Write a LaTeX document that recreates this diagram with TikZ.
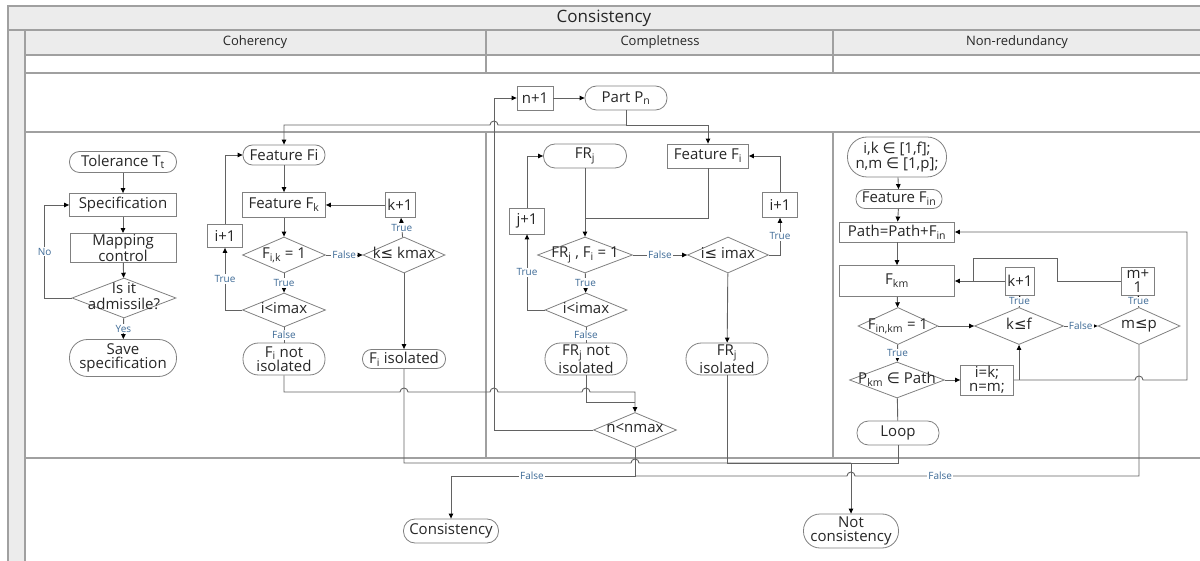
\documentclass[tikz,border=0pt]{standalone}
\usepackage{fontspec}
\setmainfont{Open Sans}
\newfontfamily\symf{DejaVu Sans}
\usepackage{xcolor}
\usepackage{tikz}
\usetikzlibrary{positioning,arrows.meta,shapes.geometric}

\definecolor{lanegray}{HTML}{A0A0A0}
\definecolor{lanefill}{HTML}{ECECEC}
\definecolor{shapegray}{HTML}{808080}
\definecolor{conngray}{HTML}{626262}
\definecolor{lblblue}{HTML}{3D6A96}
\definecolor{txt}{HTML}{262626}

\newcommand{\dtxt}[1]{\makebox[0pt]{\begin{tabular}{@{}c@{}}#1\end{tabular}}}
\newcommand{\lesym}{{\symf ≤}}
\newcommand{\insym}{{\symf ∈}}

\begin{document}
\begin{tikzpicture}[
    x=1pt, y=-1pt,
    nd/.style={draw=shapegray, line width=0.8pt, text=txt, align=center,
               font=\fontsize{15}{14.5}\selectfont, inner sep=1pt},
    sz/.style 2 args={minimum width=#1pt, minimum height=#2pt},
    proc/.style={nd, rectangle},
    term/.style={nd, rectangle, rounded corners=#1},
    dec/.style={nd, diamond, aspect=1, inner sep=0pt},
    conn/.style={draw=conngray, line width=0.9pt},
    arr/.style={conn, -{Triangle[length=5pt,width=4.5pt,color=black]}},
    lbl/.style={font=\fontsize{10}{10}\selectfont, text=lblblue, fill=white, inner sep=1pt},
    lanerule/.style={draw=lanegray, line width=1.2pt},
    head/.style={text=txt, font=\fontsize{13}{13}\selectfont},
  ]
  \useasboundingbox (0,0) rectangle (1200,561);

  % Pool and lanes
  \fill[lanefill] (8,6) rectangle (1200,30);
  \fill[lanefill] (8,30) rectangle (25,561);
  \fill[lanefill] (25,30) rectangle (1200,55);
  \draw[lanerule] (8,561) -- (8,6) -- (1200,6);
  \draw[lanerule] (8,30) -- (1200,30);
  \draw[lanerule] (25,30) -- (25,561);
  \foreach \yy in {55,73,132,458}
    \draw[lanerule] (25,\yy) -- (1200,\yy);
  \foreach \xx in {486,833} {
    \draw[lanerule] (\xx,30) -- (\xx,73);
    \draw[lanerule] (\xx,132) -- (\xx,458);
  }
  \node[head, font=\fontsize{17}{17}\selectfont] (pool) at (604,18) {Consistency};
  \node[head] (lcoh) at (255,42) {Coherency};
  \node[head] (lcom) at (660,42) {Completness};
  \node[head] (lnon) at (1017,42) {Non-redundancy};

  % Coherency: tolerance
  \node[term=10pt, sz={107}{21}] (tol) at (123,162) {Tolerance T\textsubscript{t}};
  \node[proc, sz={107}{23}] (spec) at (123,205) {Specification};
  \node[proc, sz={106}{25}] (map) at (123,248) {Mapping\\control};
  \node[dec, sz={104}{40}] (adm) at (124,298) {\dtxt{Is it\\admissile?}};
  \node[term=18pt, sz={107}{37}] (save) at (123,358) {Save\\specification};

  % Coherency: features
  \node[term=9.5pt, sz={82}{20}] (feat) at (284,155) {Feature Fi};
  \node[proc, sz={83}{25}] (fk) at (284,205) {Feature F\textsubscript{k}};
  \node[proc, sz={30}{25}] (kinc) at (400,205) {k+1};
  \node[proc, sz={35}{23}] (iinc) at (225,236) {i+1};
  \node[dec, sz={83}{36}] (fik) at (284,255) {\dtxt{F\textsubscript{i,k} = 1}};
  \node[dec, sz={82}{36}] (kmax) at (404,255) {\dtxt{k\lesym{} kmax}};
  \node[dec, sz={83}{34}] (imax) at (284,310) {\dtxt{i<imax}};
  \node[term=15.5pt, sz={82}{32}] (fnot) at (284,359) {F\textsubscript{i} not\\isolated};
  \node[term=9pt, sz={83}{19}] (fiso) at (404,359) {F\textsubscript{i} isolated};

  % Completness
  \node[proc, sz={36}{24}] (ninc) at (535,98) {n+1};
  \node[term=11.5pt, sz={82}{24}] (part) at (626,98) {Part P\textsubscript{n}};
  \node[term=11.5pt, sz={83}{24}] (frj) at (585,156) {FR\textsubscript{j}};
  \node[proc, sz={81}{24}] (feat2) at (708,156) {Feature F\textsubscript{i}};
  \node[proc, sz={35}{25}] (iinc2) at (780,205) {i+1};
  \node[proc, sz={35}{26}] (jinc) at (527,221) {j+1};
  \node[dec, sz={95}{36}] (frfi) at (585,255) {\dtxt{FR\textsubscript{j} , F\textsubscript{i} = 1}};
  \node[dec, sz={81}{36}] (ile) at (728,255) {\dtxt{i\lesym{} imax}};
  \node[dec, sz={82}{34}] (imax2) at (586,310) {\dtxt{i<imax}};
  \node[term=15.5pt, sz={82}{32}] (frnot) at (586,359) {FR\textsubscript{j} not\\isolated};
  \node[term=15.5pt, sz={82}{32}] (friso) at (727,359) {FR\textsubscript{j}\\isolated};
  \node[dec, sz={83}{35}] (nmax) at (635,430) {\dtxt{n<nmax}};

  % Non-redundancy
  \node[term=19.5pt, sz={99}{40}] (init) at (897,157) {i,k \insym{} [1,f];\\n,m \insym{} [1,p];};
  \node[term=9pt, sz={86}{19}] (fin) at (899,199) {Feature F\textsubscript{in}};
  \node[proc, sz={115}{20}] (path) at (897,232) {Path=Path+F\textsubscript{in}};
  \node[proc, sz={115}{31}] (fkm) at (897,281) {F\textsubscript{km}};
  \node[proc, sz={29}{28}] (kinc2) at (1020,281) {k+1};
  \node[proc, sz={33}{28}] (minc) at (1138,281) {m+\\1};
  \node[dec, sz={80}{37}] (fin1) at (898,326) {\dtxt{F\textsubscript{in,km} = 1}};
  \node[dec, sz={89}{37}] (kf) at (1019,326) {\dtxt{k\lesym{}f}};
  \node[dec, sz={82}{37}] (mp) at (1139,326) {\dtxt{m\lesym{}p}};
  \node[dec, sz={95}{36}] (pkm) at (897,380) {\dtxt{P\textsubscript{km} \insym{} Path}};
  \node[proc, sz={53}{25}] (ikn) at (987,380) {i=k;\\n=m;};
  \node[term=11.5pt, sz={82}{24}] (loop) at (898,433) {Loop};

  % Results
  \node[term=11.5pt, sz={95}{24}] (cons) at (451,531) {Consistency};
  \node[term=16.5pt, sz={95}{34}] (ncons) at (851,531) {Not\\consistency};

  % Junctions
  \coordinate (pjn) at (626,125);
  \coordinate (nret) at (494,98);
  \coordinate (mrg) at (585,218);
  \coordinate (nin) at (635,402);
  \coordinate (ncd) at (851,463);
  \coordinate (cj) at (635,476);
  \coordinate (mj) at (973,281);

  % Coherency: tolerance flow
  \draw[arr] (tol) -- (spec);
  \draw[arr] (spec) -- (map);
  \draw[arr] (map) -- (adm);
  \draw[arr] (adm.west) -- ++(-27,0) |- node[lbl, pos=0.25] {No} (spec.west);
  \draw[arr] (adm) -- node[lbl] {Yes} (save);

  % Coherency: feature loops
  \draw[arr] (feat) -- (fk);
  \draw[arr] (fk) -- (fik);
  \draw[arr] (fik) -- node[lbl] {False} (kmax);
  \draw[arr] (kmax) -- node[lbl] {True} (kinc);
  \draw[arr] (kinc) -- (fk);
  \draw[arr] (fik) -- node[lbl] {True} (imax);
  \draw[arr] (imax.west) -| node[lbl, pos=0.75] {True} (iinc.south);
  \draw[arr] (iinc.north) |- (feat.west);
  \draw[conn] (imax) -- node[lbl] {False} (fnot);
  \draw[arr] (kmax) -- (fiso);

  % Part loop
  \draw[arr] (ninc) -- (part);
  \draw[arr] (part.south) -- (pjn) -| (feat2.north);
  \draw[arr] (pjn) -- (498,125) arc[start angle=0, end angle=180, radius=4pt] -| (feat.north);
  \draw[arr] (nmax.west) -| (nret) -- (ninc.west);

  % Completness loops
  \draw[arr] (frj) -- (frfi);
  \draw[conn] (feat2.south) |- (mrg);
  \draw[arr] (frfi) -- node[lbl] {False} (ile);
  \draw[arr] (ile.east) -| node[lbl, pos=0.75] {True} (iinc2.south);
  \draw[arr] (iinc2.north) |- (feat2.east);
  \draw[arr] (frfi) -- node[lbl] {True} (imax2);
  \draw[arr] (imax2.west) -| node[lbl, pos=0.75] {True} (jinc.south);
  \draw[arr] (jinc.north) |- (frj.west);
  \draw[conn] (imax2) -- node[lbl] {False} (frnot);
  \draw[arr] (ile) -- (friso);

  % Into n<nmax
  \draw[arr] (fnot.south) |- (400,392) arc[start angle=180, end angle=0, radius=4pt]
    -- (490,392) arc[start angle=180, end angle=0, radius=4pt]
    -- (582,392) arc[start angle=180, end angle=0, radius=4pt] -| (nmax.north);
  \draw[conn] (frnot.south) |- (nin);

  % Non-redundancy flow
  \draw[arr] (init) -- (fin);
  \draw[arr] (fin) -- (path);
  \draw[arr] (path) -- (fkm);
  \draw[arr] (fkm) -- (fin1);
  \draw[arr] (fin1) -- (kf);
  \draw[arr] (kf) -- node[lbl] {False} (mp);
  \draw[arr] (kf) -- node[lbl] {True} (kinc2);
  \draw[arr] (mp) -- node[lbl] {True} (minc);
  \draw[arr] (kinc2) -- (fkm);
  \draw[conn] (minc.west) -- (1057,281) -- (1057,258) -| (mj);
  \draw[arr] (fin1) -- node[lbl] {True} (pkm);
  \draw[arr] (pkm) -- (ikn);
  \draw[arr] (ikn.east) -- (1135,380) arc[start angle=180, end angle=0, radius=4pt]
    -- (1187,380) |- (path.east);
  \draw[arr] (kf.south |- ikn.east) -- (kf.south);
  \draw[conn] (pkm) -- (loop);

  % Results
  \draw[conn] (fiso.south) |- (631,463) arc[start angle=180, end angle=0, radius=4pt] -- (ncd);
  \draw[conn] (friso.south) |- (ncd);
  \draw[conn] (loop.south) |- (ncd);
  \draw[arr] (ncd) -- (ncons.north);
  \draw[arr] (nmax.south) -- (cj) -| node[lbl, pos=0.28] {False} (cons.north);
  \draw[conn] (mp.south) |- node[lbl, pos=0.85] {False} (855,476)
    arc[start angle=0, end angle=180, radius=4pt] -- (cj);
\end{tikzpicture}
\end{document}
